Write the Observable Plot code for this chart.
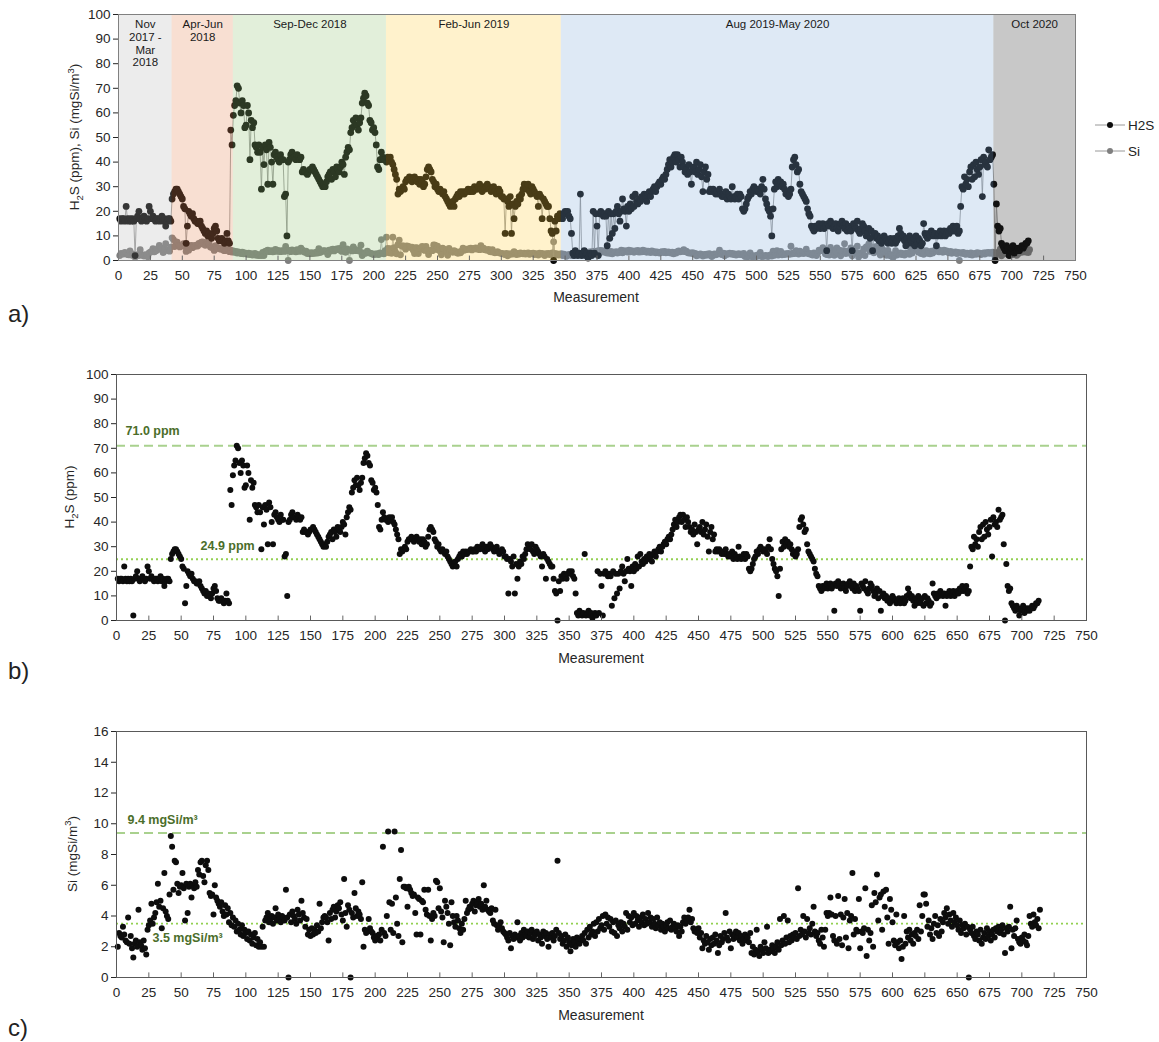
<!DOCTYPE html>
<html><head><meta charset="utf-8">
<script src="https://cdn.jsdelivr.net/npm/d3@7"></script>
<script src="https://cdn.jsdelivr.net/npm/@observablehq/plot@0.6"></script>
<style>
body{margin:0;background:#fff;font-family:"Liberation Sans",Arial,sans-serif;color:#222}
#wrap{position:relative;width:1159px;height:1042px;overflow:hidden}
.abs{position:absolute;white-space:nowrap}
.plot{position:absolute;left:0}
.rot{position:absolute;transform:translate(-50%,-50%) rotate(-90deg);font-size:13.5px;white-space:nowrap;color:#262626}
.xt{position:absolute;transform:translateX(-50%);font-size:14px;color:#262626}
.pl{position:absolute;font-size:24px;left:8px}
sub,sup{font-size:70%}
</style></head><body><div id="wrap"></div>
<script>
// ---------------- data ----------------
const h2s = [
17,16,17,17,16,22,17,16,17,16,
17,16,2,17,18,20,17,16,17,18,
17,16,17,22,20,17,18,17,16,17,
17,16,17,18,16,17,14,16,17,17,
16,25,27,28,29,29,28,27,26,25,
22,21,7,14,20,19,18,19,17,16,
16,15,15,16,14,13,12,11,12,10,
11,10,9,11,13,14,12,9,8,8,
9,8,7,8,11,8,7,53,47,59,
63,65,71,70,64,60,65,63,54,55,
63,60,41,57,54,56,47,46,44,47,
44,29,46,39,47,45,31,48,46,40,
31,43,44,42,41,40,43,41,41,26,
27,10,40,41,43,44,42,42,41,43,
42,41,42,36,37,36,36,35,36,37,
37,38,37,36,35,34,33,32,31,30,
31,30,32,34,35,36,33,37,36,34,
38,37,36,38,40,39,35,42,44,46,
45,52,54,57,55,58,55,53,56,58,
64,66,68,67,64,63,57,56,53,54,
52,47,38,37,41,44,42,41,41,40,
42,41,42,40,39,37,35,33,27,29,
28,29,30,29,32,33,33,34,33,32,
33,34,33,32,33,31,33,32,30,31,
34,37,38,37,36,33,32,30,31,29,
28,29,28,27,28,26,25,24,23,22,
23,24,22,25,26,27,26,28,27,28,
27,28,28,29,28,28,29,28,30,29,
29,30,31,29,28,30,29,30,31,30,
29,28,29,30,28,27,28,29,28,26,
26,25,11,25,24,22,26,11,23,17,
22,24,23,26,25,27,29,31,30,29,
31,28,27,30,29,28,27,26,22,27,
26,17,25,24,23,22,22,17,12,11,
0,16,12,18,17,19,18,17,19,20,
19,20,18,17,11,3,2,4,3,2,
3,27,2,3,4,2,3,1,2,3,
2,20,3,19,14,2,19,20,19,18,
19,18,6,20,9,19,11,19,13,20,
22,19,16,20,25,21,20,14,22,20,
23,21,26,22,27,24,23,25,24,26,
25,27,26,24,27,28,26,28,29,30,
28,30,31,32,31,33,34,33,35,37,
39,41,38,40,42,43,40,43,41,38,
42,40,38,36,37,35,39,36,31,37,
38,36,40,35,37,39,34,28,36,38,
33,35,28,29,28,29,28,27,28,27,
29,27,26,27,26,28,25,27,26,25,
30,26,25,26,27,25,27,26,21,20,
21,23,25,26,28,27,29,30,29,28,
29,28,27,30,33,29,25,23,21,20,
18,10,21,29,32,30,33,31,32,30,
31,29,27,28,26,27,29,38,41,42,
39,36,37,31,28,27,26,25,24,21,
19,18,14,13,12,14,13,14,15,13,
14,15,13,14,4,15,14,16,15,13,
14,15,13,12,14,15,16,14,13,15,
12,14,13,12,4,15,14,13,16,12,
11,13,15,14,12,10,11,13,9,12,
4,10,11,9,10,8,9,7,8,10,
9,8,7,8,9,7,8,9,7,8,
10,13,11,9,10,8,6,9,7,10,
8,7,9,6,10,7,9,8,6,7,
15,11,10,9,11,10,12,11,10,11,
6,10,11,12,10,11,12,10,11,12,
11,13,12,14,12,13,14,11,12,22,
30,29,34,31,33,30,36,38,33,39,
34,40,37,35,38,41,26,42,39,40,
38,45,41,42,43,31,0,23,14,12,
13,7,6,5,4,6,5,2,4,5,
6,3,5,4,5,4,5,6,5,6,
7,7,8
];
const si = [
2.0,2.9,2.7,2.6,3.3,2.8,2.4,2.3,3.9,2.2,
2.7,1.9,1.3,2.2,2.4,2.0,4.4,2.3,2.1,1.8,
2.4,1.9,1.5,3.1,3.4,3.7,4.8,3.5,3.9,4.2,
4.9,6.1,4.6,5.0,3.2,4.5,6.8,4.3,4.0,3.8,
5.4,9.2,8.5,5.7,7.6,7.5,6.1,5.5,5.9,6.0,
6.8,5.8,3.7,6.1,4.2,5.9,6.1,5.2,6.0,5.8,
6.2,5.9,7.0,6.7,7.5,7.6,6.6,6.2,7.3,7.6,
7.0,5.5,5.3,5.4,4.1,6.0,5.2,5.0,4.8,4.6,
4.9,4.3,4.0,4.7,4.1,4.5,3.6,4.2,3.4,3.9,
3.3,3.7,3.0,3.5,3.1,2.8,3.4,2.7,3.1,2.9,
2.5,3.0,2.4,2.8,2.2,2.6,2.9,2.1,2.5,2.0,
2.3,2.0,3.3,2.0,3.7,3.9,4.2,3.6,3.8,4.0,
3.5,3.9,4.5,3.7,4.1,3.8,3.6,4.0,3.9,3.7,
5.7,3.9,0.0,4.1,3.6,4.3,4.0,3.8,3.5,4.4,
4.1,3.7,5.0,4.2,3.9,3.3,3.8,2.8,3.1,2.7,
3.2,2.8,3.1,2.9,3.4,3.0,4.8,3.2,3.6,3.9,
4.0,3.9,3.6,2.4,4.2,3.8,4.4,4.6,3.9,4.3,
4.7,4.5,4.9,4.1,3.7,6.4,4.2,3.3,4.7,4.4,
0.0,4.2,3.9,5.5,4.5,4.0,4.3,4.1,3.8,6.2,
2.0,3.1,2.9,3.0,3.8,3.2,3.0,2.9,2.6,2.4,
2.7,2.5,2.8,2.4,3.1,8.5,2.9,2.7,4.0,9.5,
4.9,3.1,4.8,2.9,9.5,5.2,3.5,2.7,6.4,8.3,
2.3,5.9,5.9,5.8,4.6,5.9,5.7,5.5,5.3,5.4,
4.2,2.8,5.2,5.1,2.8,5.0,4.9,5.7,4.4,4.1,
5.7,4.0,2.4,3.8,4.2,4.0,6.3,6.2,4.5,5.8,
4.3,3.9,2.3,5.0,4.6,4.2,3.5,2.1,4.9,4.0,
3.6,3.3,4.0,3.7,3.2,2.9,3.5,3.1,3.8,5.0,
4.2,4.4,4.6,4.5,4.8,5.0,4.3,4.7,4.9,5.1,
4.6,4.8,4.4,6.0,4.6,5.0,4.4,4.3,4.2,4.5,
3.7,3.5,4.4,3.4,3.1,3.3,3.6,3.2,3.0,2.9,
2.8,2.6,2.4,2.9,1.9,2.7,2.5,2.8,2.6,3.6,
2.7,2.4,2.9,2.6,3.1,2.8,2.7,3.0,2.6,2.9,
3.1,2.5,2.7,2.9,3.0,2.4,2.8,2.6,2.2,3.0,
2.7,2.9,2.5,2.0,2.8,2.6,2.9,2.4,2.7,3.1,
7.6,2.9,2.5,2.7,2.2,2.4,2.8,2.0,2.6,2.3,
1.7,2.1,2.5,2.3,2.0,2.6,2.4,2.2,2.5,2.7,
2.4,2.9,2.2,3.1,2.6,3.3,2.8,3.0,3.5,2.7,
3.6,3.0,3.8,3.2,3.4,4.0,3.1,4.1,3.5,3.9,
3.3,3.8,3.0,3.6,2.9,3.7,2.7,3.4,3.2,3.6,
3.0,3.5,3.3,4.2,3.1,4.0,3.6,3.9,3.4,4.2,
3.5,4.0,3.7,3.3,3.9,3.6,4.1,3.4,3.8,3.5,
4.2,3.6,3.9,3.3,3.8,3.5,3.2,3.9,3.4,3.6,
3.1,3.5,3.3,3.0,3.4,3.6,3.2,3.7,3.1,3.3,
3.5,3.2,3.0,3.4,2.7,3.3,3.0,3.6,3.9,3.5,
3.7,3.9,4.4,3.6,3.8,3.2,3.0,3.1,2.9,3.2,
2.6,2.9,1.9,2.4,2.2,2.7,2.3,1.8,2.5,2.1,
2.6,2.2,2.8,2.4,1.6,2.1,2.7,2.3,2.5,2.9,
4.2,2.6,2.4,3.0,1.9,2.8,2.5,2.7,3.0,2.6,
2.9,2.4,2.7,2.2,2.5,2.8,2.4,2.6,2.3,2.9,
1.6,2.0,1.5,1.8,3.1,1.7,1.4,2.0,1.8,1.6,
2.3,1.9,3.3,1.6,1.8,1.7,2.1,1.9,1.6,2.0,
2.3,1.8,3.8,2.1,2.4,4.0,2.2,2.6,3.7,2.3,
2.7,2.4,2.8,2.6,2.9,2.5,5.8,2.7,3.1,2.8,
4.0,3.0,2.6,3.8,2.9,3.2,2.8,3.5,4.6,3.0,
2.7,2.9,2.4,2.2,3.1,2.6,2.0,3.1,4.2,4.0,
4.2,5.2,4.1,2.7,2.4,4.0,2.2,5.3,2.5,4.1,
2.1,3.9,5.1,2.6,4.2,1.9,3.7,4.0,6.8,2.8,
3.8,3.1,3.0,5.1,1.9,3.0,2.9,3.2,5.8,1.4,
3.1,2.4,2.9,4.7,2.0,5.5,4.9,6.7,3.7,5.2,
5.4,3.1,5.6,4.6,5.7,3.9,2.2,5.1,4.4,3.6,
2.4,2.1,4.1,2.3,1.9,2.4,1.2,2.0,4.0,2.2,
3.0,2.6,3.1,2.4,2.8,2.2,2.9,2.7,3.1,2.5,
4.7,3.0,4.0,5.4,5.4,4.8,3.3,3.7,2.8,3.2,
2.5,3.5,4.0,2.9,3.4,2.7,3.8,3.0,3.6,4.2,
3.9,4.5,3.5,4.1,3.7,3.3,4.2,3.6,3.9,3.4,
3.1,3.7,2.9,3.4,3.2,3.5,2.8,3.3,0.0,3.1,
2.9,3.3,2.7,2.5,3.0,2.8,2.4,3.1,2.2,2.6,
2.9,2.5,3.2,2.7,3.0,2.4,2.8,3.1,2.6,3.2,
3.0,3.3,2.9,3.1,3.4,2.8,1.6,3.2,3.0,3.3,
4.6,1.9,3.1,2.7,3.2,3.7,2.5,2.3,2.2,2.6,
2.4,2.8,2.3,2.1,2.7,4.0,3.5,3.3,4.1,3.6,
3.4,3.8,3.2,4.4
];
const bandLabels = ["Nov\n2017 -\nMar\n2018","Apr-Jun\n2018","Sep-Dec 2018","Feb-Jun 2019","Aug 2019-May 2020","Oct 2020"];
const bandStart = [0, 42, 90, 210, 347, 686];
const bandEnd   = [42, 90, 210, 347, 686, 750];
const bandTint  = ["#b4b4b4","#e4804c","#8cc06c","#ffcc34","#7ca8d8","#242424"];
const xTicks = [0,25,50,75,100,125,150,175,200,225,250,275,300,325,350,375,400,425,450,475,500,525,550,575,600,625,650,675,700,725,750];
const yTicksPct = [0,10,20,30,40,50,60,70,80,90,100];
const yTicksSi = [0,2,4,6,8,10,12,14,16];
const h2sRef = [71.0, 24.9];
const h2sRefLabel = ["71.0 ppm","24.9 ppm"];
const siRef = [9.4, 3.5];
const siRefLabel = ["9.4 mgSi/m³","3.5 mgSi/m³"];

// ---------------- build ----------------
const h2sData = h2s.map((v,i)=>({x:i+1, v}));
const siData = si.map((v,i)=>({x:i+1, v}));
const bands = bandLabels.map((label,i)=>({label, x1:bandStart[i], x2:bandEnd[i], tint:bandTint[i]}));
const font = "Liberation Sans, Arial, sans-serif";
const wrap = document.getElementById("wrap");

function place(node, top){ node.classList.add("plot"); node.style.top = top+"px"; wrap.appendChild(node); }
function html(tag, cls, style, inner){ const e=document.createElement(tag); e.className=cls; Object.assign(e.style, style); e.innerHTML=inner; wrap.appendChild(e); return e; }

const common = (h, mt, mb, ml, mr) => ({
  width:1159, height:h, marginTop:mt, marginBottom:mb, marginLeft:ml, marginRight:mr,
  style:{fontFamily:font, fontSize:"13.5px", color:"#262626", background:"transparent", overflow:"visible"}
});

// Panel a
const pa = Plot.plot({
  ...common(290, 14, 30, 118, 84),
  x:{domain:[0,750], ticks:xTicks, tickSize:0, tickPadding:10, label:null},
  y:{domain:[0,100], ticks:yTicksPct, tickSize:5, tickPadding:3, label:null},
  color:{type:"identity"},
  marks:[
    Plot.line(siData,{x:"x",y:"v",stroke:"#a6a6a6",strokeWidth:0.8}),
    Plot.dot(siData,{x:"x",y:"v",r:3.4,fill:"#7f7f7f"}),
    Plot.line(h2sData,{x:"x",y:"v",stroke:"#8c8c8c",strokeWidth:0.8}),
    Plot.dot(h2sData,{x:"x",y:"v",r:3.4,fill:"#0c0c0c"}),
    Plot.rect(bands,{x1:"x1",x2:"x2",y1:0,y2:100,fill:"tint",fillOpacity:0.25}),
    Plot.text(bands,{x:d=>(d.x1+d.x2)/2,y:98,text:"label",lineAnchor:"top",fontSize:11.5,fill:"#1a1a1a",lineHeight:1.1}),
    Plot.ruleX(xTicks,{y1:0,y2:1.8,stroke:"#666"}),
    Plot.frame({stroke:"#808080"})
  ]
});
place(pa, 0);

// Panel b
const pb = Plot.plot({
  ...common(330, 34, 50, 116, 73),
  x:{domain:[0,750], ticks:xTicks, tickSize:0, tickPadding:10, label:null},
  y:{domain:[0,100], ticks:yTicksPct, tickSize:5, tickPadding:3, label:null},
  marks:[
    Plot.ruleY([h2sRef[0]],{stroke:"#a9d18e",strokeWidth:2,strokeDasharray:"9,5"}),
    Plot.ruleY([h2sRef[1]],{stroke:"#92d050",strokeWidth:1.8,strokeDasharray:"2,3"}),
    Plot.dot(h2sData,{x:"x",y:"v",r:3,fill:"#0d0d0d"}),
    Plot.text([0],{y:()=>h2sRef[0],text:()=>h2sRefLabel[0],frameAnchor:"left",dx:9,dy:-15,textAnchor:"start",fontWeight:"bold",fontSize:12.5,fill:"#4b6e2a"}),
    Plot.text([0],{y:()=>h2sRef[1],text:()=>h2sRefLabel[1],frameAnchor:"left",dx:84,dy:-13,textAnchor:"start",fontWeight:"bold",fontSize:12.5,fill:"#4b6e2a"}),
    Plot.ruleX(xTicks,{y1:0,y2:1.8,stroke:"#666"}),
    Plot.frame({stroke:"#595959"})
  ]
});
place(pb, 340);

// Panel c
const pc = Plot.plot({
  ...common(330, 31, 53, 116, 73),
  x:{domain:[0,750], ticks:xTicks, tickSize:0, tickPadding:10, label:null},
  y:{domain:[0,16], ticks:yTicksSi, tickSize:5, tickPadding:3, label:null},
  marks:[
    Plot.ruleY([siRef[0]],{stroke:"#a9d18e",strokeWidth:2,strokeDasharray:"9,5"}),
    Plot.ruleY([siRef[1]],{stroke:"#92d050",strokeWidth:1.8,strokeDasharray:"2,3"}),
    Plot.dot(siData,{x:"x",y:"v",r:3,fill:"#0d0d0d"}),
    Plot.text([0],{y:()=>siRef[0],text:()=>siRefLabel[0],frameAnchor:"left",dx:11,dy:-13,textAnchor:"start",fontWeight:"bold",fontSize:12.5,fill:"#4b6e2a"}),
    Plot.text([0],{y:()=>siRef[1],text:()=>siRefLabel[1],frameAnchor:"left",dx:36,dy:14,textAnchor:"start",fontWeight:"bold",fontSize:12.5,fill:"#4b6e2a"}),
    Plot.ruleX(xTicks,{y1:0,y2:0.3,stroke:"#666"}),
    Plot.frame({stroke:"#595959"})
  ]
});
place(pc, 700);

// axis titles, panel letters, legend
html("div","rot",{left:"75px",top:"137px"},"H<sub>2</sub>S (ppm), Si (mgSi/m<sup>3</sup>)");
html("div","rot",{left:"71px",top:"497px"},"H<sub>2</sub>S (ppm)");
html("div","rot",{left:"71px",top:"854px"},"Si (mgSi/m<sup>3</sup>)");
html("div","xt",{left:"596px",top:"289px"},"Measurement");
html("div","xt",{left:"601px",top:"650px"},"Measurement");
html("div","xt",{left:"601px",top:"1007px"},"Measurement");
html("div","pl",{top:"300px"},"a)");
html("div","pl",{top:"657px"},"b)");
html("div","pl",{top:"1014px"},"c)");
const legendItems = [{name:"H2S",c:"#0c0c0c"},{name:"Si",c:"#7f7f7f"}];
legendItems.forEach((it,i)=>{
  html("div","abs",{left:"1094px",top:(117+i*26)+"px",fontSize:"13.5px",display:"flex",alignItems:"center"},
    `<svg width="32" height="16" style="margin-right:2px"><line x1="1" x2="31" y1="8" y2="8" stroke="#8c8c8c" stroke-width="0.9"/><circle cx="16" cy="8" r="3" fill="${it.c}"/></svg>${it.name}`);
});
</script></body></html>
